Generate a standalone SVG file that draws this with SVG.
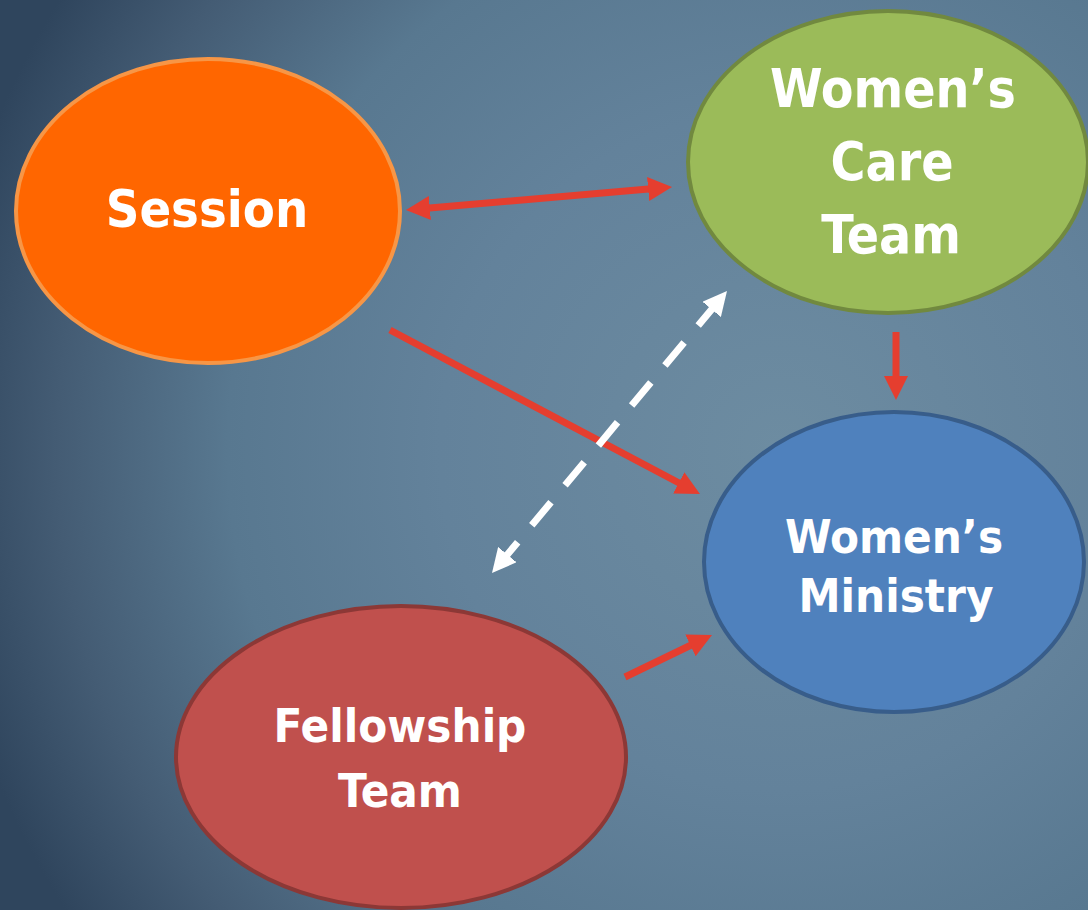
<svg xmlns="http://www.w3.org/2000/svg" width="1088" height="910" viewBox="0 0 1088 910">
<defs>
<radialGradient id="bg" gradientUnits="userSpaceOnUse" cx="780" cy="450" r="850">
<stop offset="0" stop-color="#6D8CA1"/>
<stop offset="0.4" stop-color="#63829B"/>
<stop offset="0.65" stop-color="#587890"/>
<stop offset="0.85" stop-color="#445C74"/>
<stop offset="1" stop-color="#2F455D"/>
</radialGradient>
<marker id="ah" viewBox="0 0 24 24" refX="9" refY="12" markerWidth="24" markerHeight="24" markerUnits="userSpaceOnUse" orient="auto-start-reverse">
<path d="M0,0 L24,12 L0,24 z" fill="#E53E2F"/>
</marker>
<marker id="ahw" viewBox="0 0 24 24" refX="9" refY="12" markerWidth="24" markerHeight="24" markerUnits="userSpaceOnUse" orient="auto-start-reverse">
<path d="M0,0 L24,12 L0,24 z" fill="#FFFFFF"/>
</marker>
</defs>
<style>
.lbl{font-family:"DejaVu Sans Condensed","DejaVu Sans",sans-serif;font-stretch:condensed;font-weight:bold;fill:#FFFFFF;text-anchor:middle}
.red{stroke:#E53E2F;stroke-width:7;fill:none}
.dash{stroke:#FFFFFF;stroke-width:7;fill:none;stroke-dasharray:30 22}
</style>
<rect x="0" y="0" width="1088" height="910" fill="url(#bg)"/>
<g id="session">
<ellipse cx="208" cy="211" rx="192" ry="152" fill="#FF6600" stroke="#F79646" stroke-width="4"/>
<text class="lbl" x="207" y="227" font-size="52">Session</text>
</g>
<g id="care-team">
<ellipse cx="888" cy="162" rx="200" ry="151" fill="#9BBB59" stroke="#71893F" stroke-width="4"/>
<text class="lbl" x="893" y="107" font-size="53">Women’s</text>
<text class="lbl" x="892" y="180" font-size="53">Care</text>
<text class="lbl" x="891" y="253" font-size="53">Team</text>
</g>
<g id="ministry">
<ellipse cx="894" cy="562" rx="190" ry="150" fill="#4F81BD" stroke="#385D8A" stroke-width="4"/>
<text class="lbl" x="894" y="553" font-size="47">Women’s</text>
<text class="lbl" x="896" y="612" font-size="47">Ministry</text>
</g>
<g id="fellowship">
<ellipse cx="401" cy="757" rx="225" ry="151" fill="#C0504D" stroke="#8C3836" stroke-width="4"/>
<text class="lbl" x="400" y="742" font-size="47">Fellowship</text>
<text class="lbl" x="400" y="807" font-size="47">Team</text>
</g>
<g id="connectors">
<path class="red" d="M420.9,208.7 L657.1,188.3" marker-start="url(#ah)" marker-end="url(#ah)"/>
<path class="red" d="M390,330 L686.7,487" marker-end="url(#ah)"/>
<path class="red" d="M896,332 L896,385" marker-end="url(#ah)"/>
<path class="red" d="M625,677 L698.5,641.5" marker-end="url(#ah)"/>
<path class="dash" d="M717.4,302.5 L501.6,561.5" marker-start="url(#ahw)" marker-end="url(#ahw)"/>
</g>
</svg>
